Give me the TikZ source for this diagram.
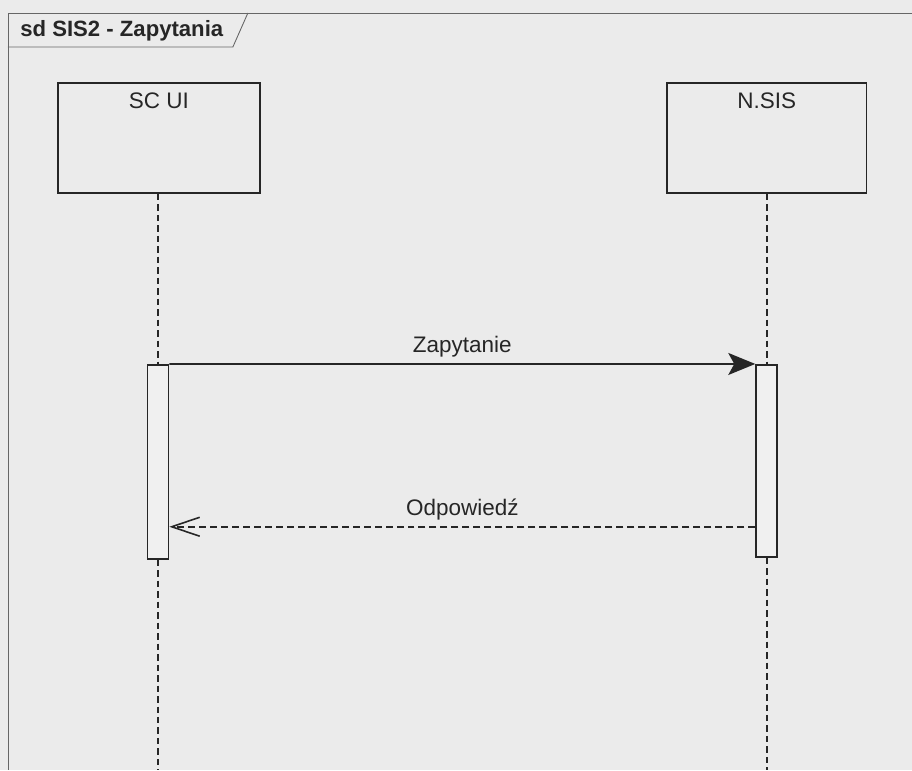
\documentclass[tikz,border=0pt]{standalone}
\usepackage{fontspec}
\setmainfont{Liberation Sans}
\usetikzlibrary{arrows.meta,positioning,calc}
\tikzset{
    paper/.style={fill=black!8},
    frame line/.style={black!60,line width=0.5pt},
    head box/.style={draw=black!85,line width=1pt,rectangle,minimum height=2.2cm},
    head text/.style={inner sep=0pt,font=\fontsize{12.8}{14}\selectfont,text=black!85},
    lifeline/.style={black!85,line width=1.1pt,dash pattern=on 0.13cm off 0.08cm},
    activation/.style={draw=black!85,line width=1pt,fill=black!6,rectangle,minimum width=0.42cm},
    msg/.style={-{Stealth[length=0.54cm,width=0.44cm,inset=0.12cm]},black!85,line width=1pt},
    reply/.style={-{Straight Barb[length=0.56cm,width=0.38cm]},black!85,line width=0.9pt,dash pattern=on 0.14cm off 0.08cm},
    msg label/.style={inner sep=0pt,font=\fontsize{12.8}{14}\selectfont,text=black!85},
}
\tikzstyle{every node}=[font=\fontsize{12.8}{14}\selectfont]

\begin{document}
\begin{tikzpicture}[x=0.02cm,y=-0.02cm]
    \fill[paper] (0,0) rectangle (912,770);
    % frame and title tab
    \draw[frame line] (912,13) -- (8,13) -- (8,770);
    \draw[frame line] (8,47) -- (233,47) -- (248,13);
    \node[anchor=west,inner sep=0pt,font=\fontsize{12.6}{14}\selectfont\bfseries,text=black!85] (title) at (20,31) {sd SIS2 - Zapytania};

    % lifeline heads
    \node[head box,minimum width=4.04cm] (scui) at (159,138) {};
    \node[head box,minimum width=4cm] (nsis) at (767,138) {};
    \node[head text,below=6pt of scui.north] (scuitext) {SC UI};
    \node[head text,below=6pt of nsis.north] (nsistext) {N.SIS};

    % activations
    \node[activation,minimum height=3.88cm] (scuibar) at (158,462) {};
    \node[activation,minimum height=3.84cm] (nsisbar) at (767,461) {};
    \coordinate (scuiend) at (158,770);
    \coordinate (nsisend) at (767,770);

    \draw[lifeline] (scui.south -| scuibar) -- (scuibar.north);
    \draw[lifeline] (scuibar.south) -- (scuiend);
    \draw[lifeline] (nsis.south) -- (nsisbar.north);
    \draw[lifeline] (nsisbar.south) -- (nsisend);

    % messages
    \draw[msg] (scuibar.north east) -- (nsisbar.north west)
        node[msg label,midway,above=3.4pt] (zap) {Zapytanie};
    \coordinate (replyfrom) at ($(nsisbar.west)+(0,66)$);
    \draw[reply] (replyfrom) -- (replyfrom -| scuibar.east)
        node[msg label,midway,above=3.4pt] (odp) {Odpowiedź};
\end{tikzpicture}
\end{document}
